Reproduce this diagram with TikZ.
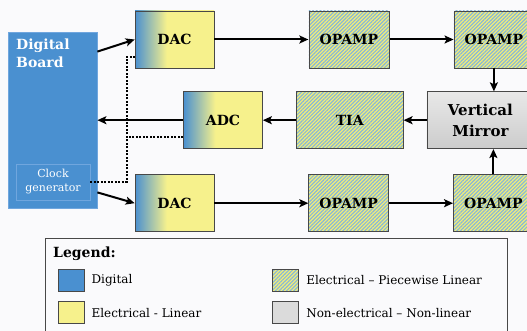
\documentclass[tikz,border=0pt]{standalone}
\usepackage{fontspec}
\setmainfont{DejaVu Serif}
\usetikzlibrary{positioning, arrows.meta, patterns.meta}
\definecolor{digiBlue}{RGB}{74,144,208}
\definecolor{digiEdge}{RGB}{112,166,222}
\definecolor{linYellow}{RGB}{244,238,120}
\definecolor{hatchBlue}{RGB}{136,184,214}
\definecolor{boxEdge}{RGB}{72,72,72}
\definecolor{pageBg}{RGB}{250,250,252}
\pgfdeclarehorizontalshading{dacShade}{100bp}{color(0bp)=(digiBlue); color(25bp)=(digiBlue); color(45bp)=(linYellow!85!white); color(100bp)=(linYellow!85!white)}

\begin{document}
\begin{tikzpicture}[
    x=1pt, y=-1pt,
    % Styles
    board/.style={
        draw=digiEdge,
        line width=0.8pt,
        fill=digiBlue,
        minimum width=89pt,
        minimum height=176pt,
        inner sep=0pt
    },
    clockbox/.style={
        draw=digiEdge,
        line width=0.6pt,
        fill=digiBlue,
        text=white,
        align=center,
        font=\fontsize{11}{14}\selectfont,
        minimum width=74pt,
        minimum height=36pt,
        inner sep=0pt
    },
    dacbox/.style={
        draw=boxEdge,
        line width=0.7pt,
        shading=dacShade,
        font=\fontsize{14}{18}\selectfont\bfseries,
        minimum width=79pt,
        minimum height=57pt,
        inner sep=0pt
    },
    ampbox/.style={
        draw=boxEdge,
        line width=0.7pt,
        preaction={fill=linYellow},
        pattern={Lines[angle=45, distance=2.6pt, line width=1.2pt]},
        pattern color=hatchBlue,
        font=\fontsize{14}{18}\selectfont\bfseries,
        minimum width=80pt,
        minimum height=57pt,
        inner sep=0pt
    },
    mirrorbox/.style={
        draw=boxEdge,
        line width=0.7pt,
        top color=gray!18,
        bottom color=gray!40,
        align=center,
        font=\fontsize{15}{20.5}\selectfont\bfseries,
        minimum width=107pt,
        minimum height=57pt,
        inner sep=0pt
    },
    legframe/.style={draw=boxEdge, line width=1pt, minimum width=462pt, minimum height=110pt, anchor=north west},
    swatch/.style={draw=boxEdge, line width=0.7pt, minimum width=26pt, minimum height=22pt, inner sep=0pt},
    legtext/.style={font=\fontsize{12}{14}\selectfont, inner sep=0pt},
    sigline/.style={-{Stealth[length=9pt, width=8pt, inset=2pt]}, line width=2pt},
    clockline/.style={line width=2pt, dash pattern=on 2pt off 1.5pt}
]

    \fill[pageBg] (0,0) rectangle (527,331);
    \useasboundingbox (0,0) rectangle (527,331);

    % ---------------------------------------------------------
    % 1. LEFT: DIGITAL BOARD
    % ---------------------------------------------------------
    \node[board] (board) at (52.5,120) {};
    \node[anchor=north west, inner sep=0pt, text=white, align=left,
          font=\fontsize{14}{18}\selectfont\bfseries] (boardname) at (16,39) {Digital\\Board};
    \node[clockbox] (clk) at (53,182) {Clock\\generator};

    % ---------------------------------------------------------
    % 2. TOP AND BOTTOM CHAINS
    % ---------------------------------------------------------
    \node[dacbox] (dac1) at (174.5,39.5) {DAC};
    \node[ampbox, right=94pt of dac1] (amp1) {OPAMP};
    \node[ampbox, right=64pt of amp1] (amp2) {OPAMP};

    \node[dacbox, below=106pt of dac1] (dac2) {DAC};
    \node[ampbox, right=94pt of dac2] (amp3) {OPAMP};
    \node[ampbox, right=64pt of amp3] (amp4) {OPAMP};

    % ---------------------------------------------------------
    % 3. MIDDLE: RETURN PATH
    % ---------------------------------------------------------
    \node[mirrorbox, below=23pt of amp2, xshift=-13.5pt] (mirror) {Vertical\\Mirror};
    \node[ampbox, minimum width=107pt, left=23pt of mirror] (tia) {TIA};
    \node[dacbox, left=33pt of tia] (adc) {ADC};

    % ---------------------------------------------------------
    % CONNECTIONS
    % ---------------------------------------------------------
    \draw[sigline] ([yshift=-20pt]board.north east) -- (dac1.west);
    \draw[sigline] ([yshift=16pt]board.south east) -- (dac2.west);
    \draw[sigline] (dac1.east) -- (amp1.west);
    \draw[sigline] (amp1.east) -- (amp2.west);
    \draw[sigline] (dac2.east) -- (amp3.west);
    \draw[sigline] (amp3.east) -- (amp4.west);
    \draw[sigline] (amp2.south) -- (amp2.south |- mirror.north);
    \draw[sigline] (amp4.north) -- (amp4.north |- mirror.south);
    \draw[sigline] (mirror.west) -- (tia.east);
    \draw[sigline] (tia.west) -- (adc.east);
    \draw[sigline] (adc.west) -- (adc.west -| board.east);

    % Clock distribution (dotted)
    \coordinate (clkbus) at ([xshift=-8pt, yshift=-17.5pt]dac1.west);
    \coordinate (adcclk) at ([yshift=-16.5pt]adc.west);
    \draw[clockline] (clk.east) -| (clkbus) -- (clkbus -| dac1.west);
    \draw[clockline] (adcclk) -- (adcclk -| clkbus);

    % ---------------------------------------------------------
    % LEGEND
    % ---------------------------------------------------------
    \node[legframe] (legend) at (45,238) {};
    \node[anchor=base west, inner sep=0pt,
          font=\fontsize{14}{18}\selectfont\bfseries] (legtitle) at (53,257) {Legend:};

    \node[swatch, fill=digiBlue] (swdig) at (71,280) {};
    \node[swatch, fill=linYellow!85!white, below=10pt of swdig] (swlin) {};
    \node[swatch, preaction={fill=linYellow},
          pattern={Lines[angle=45, distance=2.6pt, line width=1.2pt]},
          pattern color=hatchBlue, right=188pt of swdig] (swpwl) {};
    \node[swatch, fill=gray!28, below=10pt of swpwl] (swnon) {};

    \node[legtext, right=7pt of swdig] (txdig) {Digital};
    \node[legtext, right=7pt of swlin] (txlin) {Electrical - Linear};
    \node[legtext, right=7pt of swpwl] (txpwl) {Electrical -- Piecewise Linear};
    \node[legtext, right=7pt of swnon] (txnon) {Non-electrical -- Non-linear};

\end{tikzpicture}
\end{document}
